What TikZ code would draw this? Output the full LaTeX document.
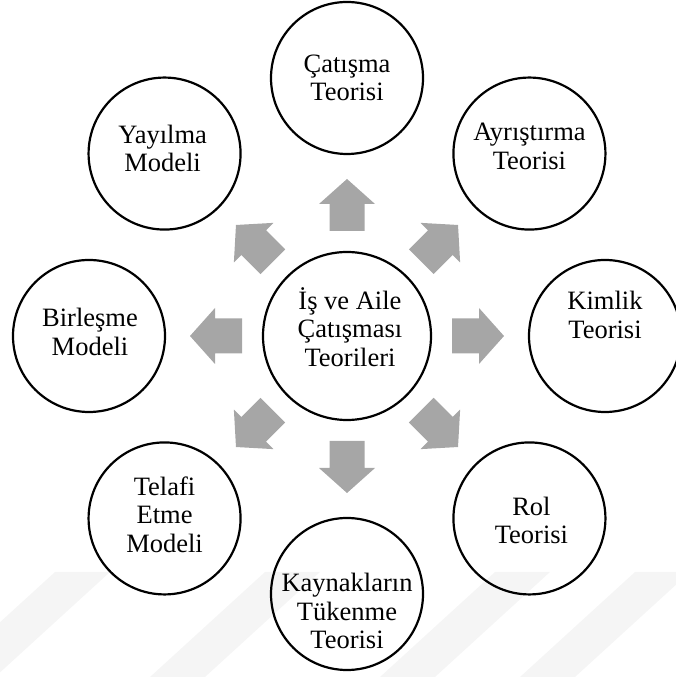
\documentclass[tikz,border=0pt]{standalone}
\usepackage{fontspec}
\setmainfont{Liberation Serif}
\begin{document}
\begin{tikzpicture}[x=1pt,y=1pt,
  sat/.style={circle,draw=black,line width=2.2pt,minimum size=152pt,inner sep=0pt},
  hub/.style={circle,draw=black,line width=2.2pt,minimum size=168pt,inner sep=0pt},
  lbl/.style={align=center,inner sep=0pt,font=\fontsize{26.5}{28.5}\selectfont},
  band/.style={fill=black!4,draw=none},
  blockarrow/.pic={\fill[arrowgray] (0,-17.5) -- (27,-17.5) -- (27,-28) -- (52,0)
                   -- (27,28) -- (27,17.5) -- (0,17.5) -- cycle;}]
\definecolor{arrowgray}{RGB}{166,166,166}
\useasboundingbox (0,0) rectangle (675,677);
% faint diagonal bands along the lower edge
\foreach \x in {-60,150,380,520}
  \fill[band] (\x,0) -- (\x+55,0) -- (\x+170,105) -- (\x+115,105) -- cycle;
% hub
\node[hub] (hub) at (347,341) {};
\node[lbl] (hubT) at ([shift={(3,9)}]hub.center) {İş ve Aile\\Çatışması\\Teorileri};
% satellites around the hub
\node[sat] (cat) at ([shift={(90:258)}]hub.center) {};
\node[sat] (ayr) at ([shift={(45:258)}]hub.center) {};
\node[sat] (kim) at ([shift={(0:258)}]hub.center) {};
\node[sat] (rol) at ([shift={(-45:258)}]hub.center) {};
\node[sat] (kay) at ([shift={(-90:258)}]hub.center) {};
\node[sat] (tel) at ([shift={(-135:258)}]hub.center) {};
\node[sat] (bir) at ([shift={(180:258)}]hub.center) {};
\node[sat] (yay) at ([shift={(135:258)}]hub.center) {};
\node[lbl] (catT) at ([shift={(0,0)}]cat.center) {Çatışma\\Teorisi};
\node[lbl] (ayrT) at ([shift={(0,7)}]ayr.center) {Ayrıştırma\\Teorisi};
\node[lbl] (kimT) at ([shift={(0,21)}]kim.center) {Kimlik\\Teorisi};
\node[lbl] (rolT) at ([shift={(2,-2)}]rol.center) {Rol\\Teorisi};
\node[lbl] (kayT) at ([shift={(0,-17)}]kay.center) {Kaynakların\\Tükenme\\Teorisi};
\node[lbl] (telT) at ([shift={(0,4)}]tel.center) {Telafi\\Etme\\Modeli};
\node[lbl] (birT) at ([shift={(1,4)}]bir.center) {Birleşme\\Modeli};
\node[lbl] (yayT) at ([shift={(-2,5)}]yay.center) {Yayılma\\Modeli};
% block arrows from the hub towards each satellite
\foreach \a in {90,45,0,-45,-90,-135,180,135}
  \pic[rotate=\a] at ([shift={(\a:105)}]hub.center) {blockarrow};
\end{tikzpicture}
\end{document}
